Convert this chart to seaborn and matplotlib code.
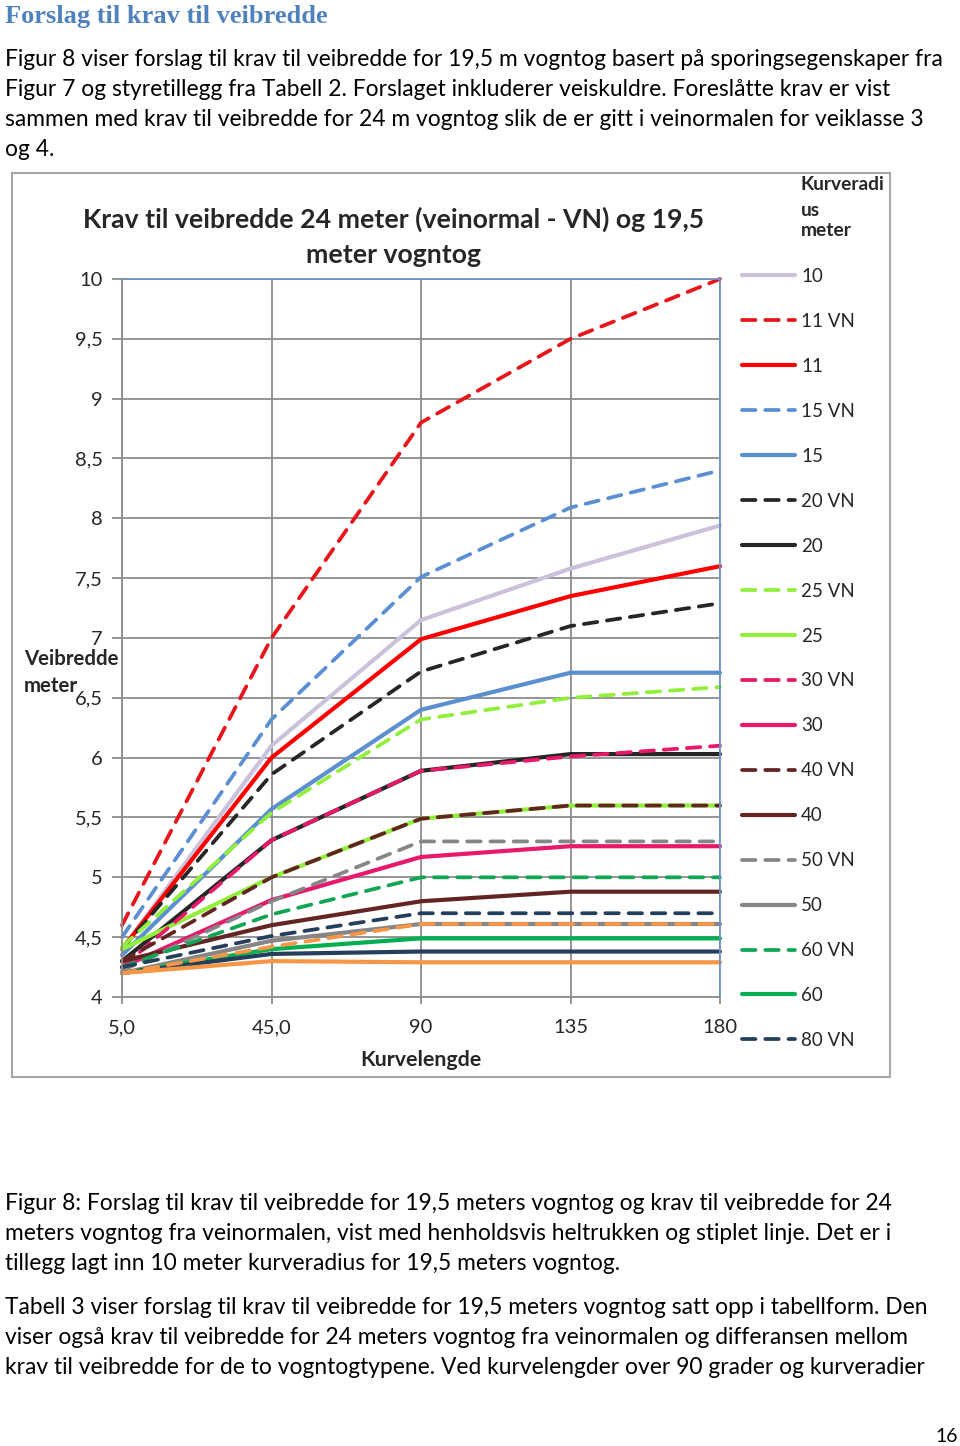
import matplotlib
matplotlib.use("Agg")
import matplotlib.pyplot as plt
import matplotlib.patches as mpatches
import seaborn as sns
import pandas as pd

# ---------------- data ----------------
kurvelengde = ["5,0", "45,0", "90", "135", "180"]

series_names = ["10", "11 VN", "11", "15 VN", "15", "20 VN", "20", "25 VN", "25",
                "30 VN", "30", "40 VN", "40", "50 VN", "50", "60 VN", "60",
                "80 VN", "80", "100 VN", "100"]

r10 = [4.40, 6.10, 7.15, 7.58, 7.94]
r11vn = [4.60, 7.00, 8.80, 9.50, 10.00]
r11 = [4.40, 6.00, 6.99, 7.35, 7.60]
r15vn = [4.50, 6.32, 7.51, 8.09, 8.40]
r15 = [4.35, 5.57, 6.40, 6.71, 6.71]
r20vn = [4.40, 5.86, 6.72, 7.10, 7.29]
r20 = [4.30, 5.31, 5.89, 6.03, 6.03]
r25vn = [4.42, 5.54, 6.32, 6.50, 6.59]
r25 = [4.40, 5.00, 5.49, 5.60, 5.60]
r30vn = [4.25, 5.31, 5.89, 6.01, 6.10]
r30 = [4.25, 4.81, 5.17, 5.26, 5.26]
r40vn = [4.30, 5.00, 5.49, 5.60, 5.60]
r40 = [4.30, 4.60, 4.80, 4.88, 4.88]
r50vn = [4.22, 4.80, 5.30, 5.30, 5.30]
r50 = [4.20, 4.47, 4.61, 4.61, 4.61]
r60vn = [4.25, 4.69, 5.00, 5.00, 5.00]
r60 = [4.20, 4.40, 4.49, 4.49, 4.49]
r80vn = [4.25, 4.51, 4.70, 4.70, 4.70]
r80 = [4.20, 4.36, 4.38, 4.38, 4.38]
r100vn = [4.20, 4.42, 4.61, 4.61, 4.61]
r100 = [4.20, 4.30, 4.29, 4.29, 4.29]

series_values = [r10, r11vn, r11, r15vn, r15, r20vn, r20, r25vn, r25,
                 r30vn, r30, r40vn, r40, r50vn, r50, r60vn, r60,
                 r80vn, r80, r100vn, r100]

series_colors = ["#CCC1DA", "#E8161B", "#FF0000", "#5A8FD2", "#5B8FD0", "#262626", "#262626",
                 "#92F03C", "#92F03C", "#E8186B", "#E8186B", "#632523", "#632523",
                 "#868686", "#868686", "#12A654", "#00B050", "#253E5C", "#253E5C",
                 "#F79646", "#F79646"]

y_ticks = [4, 4.5, 5, 5.5, 6, 6.5, 7, 7.5, 8, 8.5, 9, 9.5, 10]
y_ticklabels = ["4", "4,5", "5", "5,5", "6", "6,5", "7", "7,5", "8", "8,5", "9", "9,5", "10"]

# ---------------- style ----------------
sns.set_style("white")
FONT = ["Lato", "DejaVu Sans"]
plt.rcParams["font.family"] = FONT

W, H = 960, 1446
fig = plt.figure(figsize=(W / 100, H / 100), dpi=100)
fig.patch.set_facecolor("white")


def fx(x):
    return x / W


def fy(y):
    return 1 - y / H


# page text
fig.text(fx(5), fy(16), "Forslag til krav til veibredde", family=["Liberation Serif", "DejaVu Serif"],
         fontweight="bold", fontsize=19, color="#4F81BD", va="center", ha="left")

TXT = 16.4
para1 = ["Figur 8 viser forslag til krav til veibredde for 19,5 m vogntog basert på sporingsegenskaper fra",
         "Figur 7 og styretillegg fra Tabell 2. Forslaget inkluderer veiskuldre. Foreslåtte krav er vist",
         "sammen med krav til veibredde for 24 m vogntog slik de er gitt i veinormalen for veiklasse 3",
         "og 4."]
for i, line in enumerate(para1):
    fig.text(fx(5), fy(59 + 30.3 * i), line, fontsize=TXT, va="center", ha="left", color="black")

para2 = ["Figur 8: Forslag til krav til veibredde for 19,5 meters vogntog og krav til veibredde for 24",
         "meters vogntog fra veinormalen, vist med henholdsvis heltrukken og stiplet linje. Det er i",
         "tillegg lagt inn 10 meter kurveradius for 19,5 meters vogntog."]
for i, line in enumerate(para2):
    fig.text(fx(5), fy(1204 + 30 * i), line, fontsize=TXT, va="center", ha="left", color="black")

para3 = ["Tabell 3 viser forslag til krav til veibredde for 19,5 meters vogntog satt opp i tabellform. Den",
         "viser også krav til veibredde for 24 meters vogntog fra veinormalen og differansen mellom",
         "krav til veibredde for de to vogntogtypene. Ved kurvelengder over 90 grader og kurveradier"]
for i, line in enumerate(para3):
    fig.text(fx(5), fy(1307 + 30 * i), line, fontsize=TXT, va="center", ha="left", color="black")

fig.text(fx(958), fy(1436), "16", fontsize=14, va="center", ha="right", color="black")

# chart border
fig.patches.append(mpatches.Rectangle((fx(12), fy(1077)), fx(890) - fx(12), fy(173) - fy(1077),
                                      transform=fig.transFigure, fill=False,
                                      edgecolor="#A6A6A6", lw=1.5))

# ---------------- axes ----------------
ax = fig.add_axes([fx(122), fy(997), fx(720) - fx(122), fy(279) - fy(997)])

for name, vals, col in zip(series_names, series_values, series_colors):
    dashed = name.endswith("VN")
    df = pd.DataFrame({"Kurvelengde": kurvelengde, "Veibredde": vals})
    sns.lineplot(data=df, x="Kurvelengde", y="Veibredde", ax=ax, color=col,
                 linestyle=(0, (3.6, 2.6)) if dashed else "-",
                 lw=2.7 if dashed else 3.0, label=name, clip_on=False,
                 solid_capstyle="round", dash_capstyle="round", sort=False)

ax.set_xlim(0, len(kurvelengde) - 1)
ax.set_ylim(4, 10)
ax.set_yticks(y_ticks)
ax.set_yticklabels(y_ticklabels)
ax.grid(True, color="#8C8C8C", lw=1.3)
ax.set_axisbelow(True)
for s in ["left", "bottom"]:
    ax.spines[s].set_color("#8C8C8C")
    ax.spines[s].set_linewidth(1.3)
for s in ["top", "right"]:
    ax.spines[s].set_color("#6E93C4")
    ax.spines[s].set_linewidth(1.3)
ax.tick_params(axis="y", length=7, width=1.3, color="#8C8C8C", pad=7, labelsize=14.5, left=True)
ax.tick_params(axis="x", length=5, width=1.3, color="#8C8C8C", pad=11, labelsize=14.5, bottom=True)
ax.set_xlabel("")
ax.set_ylabel("")

# titles and axis labels
fig.text(fx(394), fy(219), "Krav til veibredde 24 meter (veinormal - VN) og 19,5",
         fontsize=19.2, fontweight="bold", ha="center", va="center")
fig.text(fx(394), fy(255), "meter vogntog", fontsize=19.2, fontweight="bold", ha="center", va="center")
fig.text(fx(24), fy(659), "Veibredde", fontsize=14.7, fontweight="bold", ha="left", va="center")
fig.text(fx(24), fy(686), "meter", fontsize=14.7, fontweight="bold", ha="left", va="center")
fig.text(fx(421), fy(1060), "Kurvelengde", fontsize=15.4, fontweight="bold", ha="center", va="center")

# legend (clipped after 80 VN as in the reference)
fig.text(fx(801), fy(185), "Kurveradi", fontsize=13.8, fontweight="bold", ha="left", va="center")
fig.text(fx(801), fy(210), "us", fontsize=13.8, fontweight="bold", ha="left", va="center")
fig.text(fx(801), fy(231), "meter", fontsize=13.8, fontweight="bold", ha="left", va="center")

handles, labels = ax.get_legend_handles_labels()
n_show = 18
ax.legend(handles[:n_show], labels[:n_show], loc="upper left",
          bbox_to_anchor=(fx(742), fy(268)), bbox_transform=fig.transFigure,
          frameon=False, fontsize=13.5, handlelength=2.85, handletextpad=0.3,
          labelspacing=1.49, borderpad=0, borderaxespad=0)

fig.savefig("out.png", dpi=100)
